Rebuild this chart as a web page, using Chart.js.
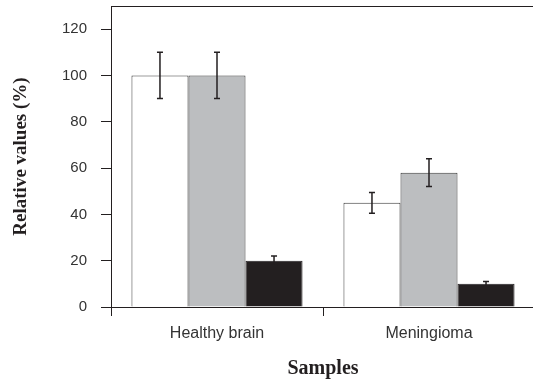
<!DOCTYPE html>
<html>
<head>
<meta charset="utf-8">
<script src="https://cdn.jsdelivr.net/npm/chart.js@4/dist/chart.umd.min.js"></script>
<style>
  html, body { margin: 0; padding: 0; background: #fff; overflow: hidden; }
  #wrap { width: 533px; height: 386px; position: relative; overflow: hidden; }
</style>
</head>
<body>
<div id="wrap"><canvas id="c" width="535" height="386"></canvas></div>
<script>
const categories = ['Healthy brain', 'Meningioma'];
const seriesWhite = [100, 45];
const errorsWhite = [10, 4.5];
const seriesGray = [100, 58];
const errorsGray = [10, 6];
const seriesBlack = [20, 10];
const errorsBlack = [2, 1];
const yTicks = [0, 20, 40, 60, 80, 100, 120];

const INK = '#231f20';

const errorBarPlugin = {
  id: 'errorBars',
  afterDatasetsDraw(chart) {
    const ctx = chart.ctx;
    const y = chart.scales.y;
    ctx.save();
    ctx.strokeStyle = INK;
    ctx.lineWidth = 1.5;
    chart.data.datasets.forEach((ds, i) => {
      const meta = chart.getDatasetMeta(i);
      meta.data.forEach((bar, j) => {
        const v = ds.data[j], e = ds.errors[j];
        const yt = y.getPixelForValue(v + e);
        const yb = y.getPixelForValue(v - e);
        const x = bar.x;
        ctx.beginPath();
        ctx.moveTo(x, yt); ctx.lineTo(x, yb);
        ctx.moveTo(x - 3, yt); ctx.lineTo(x + 3, yt);
        ctx.moveTo(x - 3, yb); ctx.lineTo(x + 3, yb);
        ctx.stroke();
      });
    });
    ctx.restore();
  }
};

const frameTopPlugin = {
  id: 'frameTop',
  afterDraw(chart) {
    const {ctx, chartArea} = chart;
    ctx.save();
    ctx.strokeStyle = INK;
    ctx.lineWidth = 1;
    ctx.beginPath();
    ctx.moveTo(chartArea.left, chartArea.top + 0.5);
    ctx.lineTo(chart.width, chartArea.top + 0.5);
    ctx.stroke();
    ctx.restore();
  }
};

new Chart(document.getElementById('c'), {
  type: 'bar',
  data: {
    labels: categories,
    datasets: [
      { data: seriesWhite, errors: errorsWhite, backgroundColor: '#ffffff', borderColor: '#3a3a3a', borderWidth: 1 },
      { data: seriesGray, errors: errorsGray, backgroundColor: '#bcbec0', borderColor: '#3a3a3a', borderWidth: 1 },
      { data: seriesBlack, errors: errorsBlack, backgroundColor: '#231f20', borderColor: '#231f20', borderWidth: 1 }
    ]
  },
  options: {
    responsive: false,
    animation: false,
    devicePixelRatio: 1,
    layout: { padding: { top: 6, right: 0, left: 0, bottom: 0 } },
    plugins: { legend: { display: false }, tooltip: { enabled: false } },
    datasets: { bar: { barPercentage: 1, categoryPercentage: 0.807 } },
    scales: {
      x: {
        grid: { display: true, drawOnChartArea: false, offset: true, tickLength: 9, color: INK, lineWidth: 1 },
        border: { display: true, color: INK, width: 1 },
        ticks: { color: '#333', padding: 8, font: { family: "'Liberation Sans', Arial, sans-serif", size: 16 } },
        title: { display: true, text: 'Samples', color: INK, padding: { top: 0, bottom: 5 },
                 font: { family: "'Liberation Serif', 'DejaVu Serif', serif", size: 20, weight: 'bold' } },
        afterFit(scale) { scale.height = 79; scale.paddingLeft = 0; scale.paddingRight = 0; }
      },
      y: {
        min: 0, max: 130,
        grid: { display: true, drawOnChartArea: false, tickLength: 10, color: INK, lineWidth: 1 },
        border: { display: true, color: INK, width: 1 },
        afterBuildTicks(scale) { scale.ticks = yTicks.map(v => ({ value: v })); },
        ticks: { color: '#333', padding: 14, font: { family: "'Liberation Sans', Arial, sans-serif", size: 15 } },
        title: { display: true, text: 'Relative values (%)', color: INK, padding: { top: 10, bottom: 0 },
                 font: { family: "'Liberation Serif', 'DejaVu Serif', serif", size: 19, weight: 'bold' } },
        afterFit(scale) { scale.width = 111; scale.paddingTop = 0; scale.paddingBottom = 0; }
      }
    }
  },
  plugins: [errorBarPlugin, frameTopPlugin]
});
</script>
</body>
</html>
